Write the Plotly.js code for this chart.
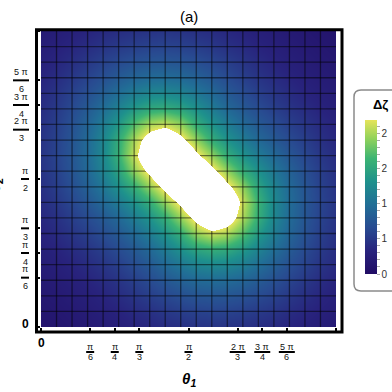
<!DOCTYPE html>
<html><head><meta charset="utf-8">
<script src="https://cdn.plot.ly/plotly-3.0.1.min.js"></script>
<style>html,body{margin:0;padding:0;background:#fff}</style>
</head><body><div id="chart" style="width:392px;height:392px"></div>
<script>
// grid positions (theta1 = theta2 grid), radians
const theta = [0,0.1653,0.3307,0.4960,0.6614,0.8267,0.9921,1.1574,1.3228,1.4881,1.6535,1.8188,1.9842,2.1495,2.3149,2.4802,2.6456,2.8109,2.9762,3.1416];
// Δζ values, rows = theta2 index, cols = theta1 index
const dz = [
 [0.12,0.14,0.17,0.20,0.24,0.275,0.32,0.36,0.40,0.43,0.46,0.47,0.46,0.44,0.41,0.38,0.335,0.29,0.25,0.21],
 [0.14,0.17,0.20,0.24,0.28,0.33,0.39,0.44,0.50,0.55,0.58,0.60,0.59,0.56,0.52,0.47,0.41,0.355,0.30,0.25],
 [0.17,0.20,0.24,0.28,0.335,0.40,0.47,0.55,0.62,0.69,0.74,0.76,0.75,0.71,0.65,0.58,0.50,0.42,0.355,0.29],
 [0.20,0.24,0.28,0.335,0.40,0.47,0.56,0.66,0.77,0.87,0.94,0.97,0.955,0.90,0.81,0.70,0.60,0.50,0.41,0.335],
 [0.24,0.28,0.335,0.40,0.47,0.56,0.67,0.79,0.94,1.07,1.18,1.23,1.21,1.12,0.99,0.84,0.70,0.58,0.47,0.38],
 [0.275,0.33,0.40,0.47,0.56,0.67,0.79,0.94,1.12,1.32,1.49,1.58,1.54,1.39,1.19,0.99,0.81,0.65,0.52,0.41],
 [0.32,0.39,0.47,0.56,0.67,0.79,0.94,1.12,1.33,1.58,1.92,2.09,2.00,1.72,1.39,1.12,0.90,0.71,0.56,0.44],
 [0.36,0.44,0.55,0.66,0.79,0.94,1.12,1.33,1.58,1.94,2.30,2.60,2.42,2.00,1.58,1.21,0.955,0.75,0.59,0.46],
 [0.40,0.50,0.62,0.77,0.94,1.12,1.33,1.58,1.94,2.30,2.68,3.145,2.60,2.09,1.62,1.23,0.97,0.76,0.60,0.47],
 [0.43,0.55,0.69,0.87,1.07,1.32,1.58,1.94,2.30,2.68,3.145,2.68,2.30,1.92,1.49,1.18,0.94,0.74,0.58,0.46],
 [0.46,0.58,0.74,0.94,1.18,1.49,1.92,2.30,2.68,3.145,2.68,2.30,1.94,1.58,1.32,1.07,0.87,0.69,0.55,0.43],
 [0.47,0.60,0.76,0.97,1.23,1.62,2.09,2.60,3.145,2.68,2.30,1.94,1.58,1.33,1.12,0.94,0.77,0.62,0.50,0.40],
 [0.46,0.59,0.75,0.955,1.21,1.58,2.00,2.42,2.60,2.30,1.94,1.58,1.33,1.12,0.94,0.79,0.66,0.55,0.44,0.36],
 [0.44,0.56,0.71,0.90,1.12,1.39,1.72,2.00,2.09,1.92,1.58,1.33,1.12,0.94,0.79,0.67,0.56,0.47,0.39,0.32],
 [0.41,0.52,0.65,0.81,0.99,1.19,1.39,1.54,1.58,1.49,1.32,1.12,0.94,0.79,0.67,0.56,0.47,0.40,0.33,0.275],
 [0.38,0.47,0.58,0.70,0.84,0.99,1.12,1.21,1.23,1.18,1.07,0.94,0.79,0.67,0.56,0.47,0.40,0.335,0.28,0.24],
 [0.335,0.41,0.50,0.60,0.70,0.81,0.90,0.955,0.97,0.94,0.87,0.77,0.66,0.56,0.47,0.40,0.335,0.28,0.24,0.20],
 [0.29,0.355,0.42,0.50,0.58,0.65,0.71,0.75,0.76,0.74,0.69,0.62,0.55,0.47,0.40,0.335,0.28,0.24,0.20,0.17],
 [0.25,0.30,0.355,0.41,0.47,0.52,0.56,0.59,0.60,0.58,0.55,0.50,0.44,0.39,0.33,0.28,0.24,0.20,0.17,0.14],
 [0.21,0.25,0.29,0.335,0.38,0.41,0.44,0.46,0.47,0.46,0.43,0.40,0.36,0.32,0.275,0.24,0.20,0.17,0.14,0.12]
];
const zCap = 2.19;      // upper end of the plotted range (above = white)
const zTop = 3.2;
const tickVals = [0,0.5236,0.7854,1.0472,1.5708,2.0944,2.3562,2.6180,3.1416];
const fracNum  = ['', 'π','π','π','π','2 π','3 π','5 π',''];
const fracDen  = ['', '6','4','3','2','3','4','6',''];
const cbTickVals = [0,0.1,0.2,0.3,0.4,0.5,0.6,0.7,0.8,0.9,1,1.1,1.2,1.3,1.4,1.5,1.6,1.7,1.8,1.9,2,2.1];
const cbTickText = ['0','','','','','1','','','','','1','','','','','2','','','','','2',''];
const cbColors = [
 [0,'rgb(33,12,100)'],[0.15,'rgb(40,35,125)'],[0.3,'rgb(40,75,145)'],[0.45,'rgb(33,110,150)'],
 [0.6,'rgb(30,145,140)'],[0.75,'rgb(60,180,115)'],[0.88,'rgb(145,210,90)'],[1,'rgb(230,228,90)']
];

const W=392,H=392, L=41, R=56, T=31, B=65;
const pw=W-L-R, ph=H-T-B;
const PX = px => (px-L)/pw;
const PY = py => (H-B-py)/ph;

const f = zCap/zTop;
const heatScale = cbColors.map(s=>[s[0]*f, s[1]]).concat([[f+0.002,'rgb(255,255,255)'],[1,'rgb(255,255,255)']]);
const maskScale = [[0,'rgba(255,255,255,0)'],[f,'rgba(255,255,255,0)'],[f+0.002,'rgba(255,255,255,1)'],[1,'rgba(255,255,255,1)']];

// mesh lines at interior grid points
const mx=[], my=[];
for (let k=1;k<theta.length-1;k++){
  mx.push(theta[k],theta[k],null); my.push(0,Math.PI,null);
  mx.push(0,Math.PI,null); my.push(theta[k],theta[k],null);
}

const traces = [
 {type:'heatmap', x:theta, y:theta, z:dz, zmin:0, zmax:zTop, zsmooth:'best', colorscale:heatScale, showscale:false, hoverinfo:'skip'},
 {type:'scatter', mode:'lines', x:mx, y:my, line:{color:'rgba(0,0,0,0.5)', width:1.3}, hoverinfo:'skip', showlegend:false},
 {type:'heatmap', x:theta, y:theta, z:dz, zmin:0, zmax:zTop, zsmooth:'best', colorscale:maskScale, showscale:false, hoverinfo:'skip', xaxis:'x2', yaxis:'y2'},
 {type:'scatter', mode:'markers', x:[-1], y:[-1], hoverinfo:'skip', showlegend:false,
  marker:{color:[0], cmin:0, cmax:zCap, colorscale:cbColors, showscale:true, opacity:0,
   colorbar:{x:PX(365), xref:'paper', xanchor:'left', y:PY(274), yref:'paper', yanchor:'bottom',
     len:154, lenmode:'pixels', thickness:12, thicknessmode:'pixels', xpad:0, ypad:0, outlinewidth:0,
     tickmode:'array', tickvals:cbTickVals, ticktext:cbTickText, ticks:'outside', ticklen:3, tickwidth:1, tickcolor:'#aaa',
     tickfont:{size:10, color:'#333', family:'Liberation Sans'}}}}
];

const ann=[], shp=[];
const fracFont = {family:'Liberation Sans', size:9, color:'#111'};
for (let k=0;k<tickVals.length;k++){
  if(!fracNum[k]) continue;
  const wide = fracNum[k].length>1;
  const bw = wide?16:8;
  // x-axis labels
  ann.push({xref:'x', x:tickVals[k], yref:'paper', y:0, yshift:-20, text:fracNum[k], showarrow:false, font:fracFont, yanchor:'middle'});
  ann.push({xref:'x', x:tickVals[k], yref:'paper', y:0, yshift:-30, text:fracDen[k], showarrow:false, font:fracFont, yanchor:'middle'});
  shp.push({type:'line', xref:'x', xsizemode:'pixel', xanchor:tickVals[k], x0:-bw/2, x1:bw/2,
            yref:'paper', ysizemode:'pixel', yanchor:0, y0:-25, y1:-25, line:{color:'#000', width:2}});
  // y-axis labels
  const cx = 29 - bw/2 - L;
  ann.push({xref:'paper', x:0, xshift:cx, yref:'y', y:tickVals[k], yshift:8.5, text:fracNum[k], showarrow:false, font:fracFont, xanchor:'center', yanchor:'middle'});
  ann.push({xref:'paper', x:0, xshift:cx, yref:'y', y:tickVals[k], yshift:-8.5, text:fracDen[k], showarrow:false, font:fracFont, xanchor:'center', yanchor:'middle'});
  shp.push({type:'line', yref:'y', ysizemode:'pixel', yanchor:tickVals[k], y0:0, y1:0,
            xref:'paper', xsizemode:'pixel', xanchor:0, x0:29-bw-L, x1:29-L, line:{color:'#000', width:2}});
}
const piFont = {family:'Liberation Serif', size:17, color:'#000', style:'italic'};
const zeroFont = {family:'Liberation Sans', size:12, color:'#000', weight:'bold'};
ann.push({xref:'paper', x:0, xshift:27-L, yref:'y', y:tickVals[8], yshift:-1, text:'π', showarrow:false, font:piFont, xanchor:'center', yanchor:'middle'});
ann.push({xref:'paper', x:0, xshift:25-L, yref:'y', y:tickVals[0], yshift:3, text:'0', showarrow:false, font:zeroFont, xanchor:'center', yanchor:'middle'});
ann.push({xref:'x', x:tickVals[0], yref:'paper', y:0, yshift:-16, text:'0', showarrow:false, font:zeroFont, yanchor:'middle'});
ann.push({xref:'x', x:tickVals[8], yref:'paper', y:0, yshift:-16.5, text:'π', showarrow:false, font:piFont, yanchor:'middle'});
// axis titles
ann.push({xref:'paper', x:PX(189), yref:'paper', y:PY(380), text:'<b><i>θ<sub>1</sub></i></b>', showarrow:false,
  font:{family:'Liberation Sans', size:15, color:'#000'}, xanchor:'center', yanchor:'middle'});
ann.push({xref:'paper', x:PX(-5), yref:'paper', y:PY(185), text:'<b><i>θ<sub>2</sub></i></b>', showarrow:false, textangle:-90,
  font:{family:'Liberation Sans', size:15, color:'#000'}, xanchor:'center', yanchor:'middle'});
// plot title
ann.push({xref:'paper', x:PX(189), yref:'paper', y:PY(16), text:'(a)', showarrow:false,
  font:{family:'Liberation Sans', size:15, color:'#000'}, xanchor:'center', yanchor:'middle'});
// legend title
ann.push({xref:'paper', x:PX(380), yref:'paper', y:PY(104), text:'<b>Δζ</b>', showarrow:false,
  font:{family:'Liberation Sans', size:13, color:'#000'}, xanchor:'center', yanchor:'middle'});

// frame
shp.push({type:'rect', xref:'paper', yref:'paper', x0:PX(36.5), x1:PX(342), y0:PY(332), y1:PY(29.8), line:{color:'#000', width:3}, layer:'above'});
// legend box
shp.push({type:'path', xref:'paper', yref:'paper', line:{color:'#8a8a8a', width:1.5},
  path:`M ${PX(400)},${PY(90)} L ${PX(361)},${PY(90)} Q ${PX(354)},${PY(90)} ${PX(354)},${PY(97)} L ${PX(354)},${PY(284)} Q ${PX(354)},${PY(291)} ${PX(361)},${PY(291)} L ${PX(400)},${PY(291)}`});

const axBase = {range:[0,Math.PI], showgrid:false, zeroline:false, showline:false, showticklabels:false,
  tickmode:'array', tickvals:tickVals, ticks:'outside', ticklen:4, tickwidth:2, tickcolor:'#000', fixedrange:true};
const layout = {
  width:W, height:H, margin:{l:L, r:R, t:T, b:B, pad:0, autoexpand:false},
  paper_bgcolor:'#fff', plot_bgcolor:'#fff', showlegend:false,
  xaxis:Object.assign({}, axBase, {ticklen:5}),
  yaxis:Object.assign({}, axBase),
  xaxis2:{range:[0,Math.PI], overlaying:'x', visible:false, fixedrange:true},
  yaxis2:{range:[0,Math.PI], overlaying:'y', visible:false, fixedrange:true},
  annotations:ann, shapes:shp
};
Plotly.newPlot('chart', traces, layout, {displayModeBar:false, staticPlot:true});
</script></body></html>
